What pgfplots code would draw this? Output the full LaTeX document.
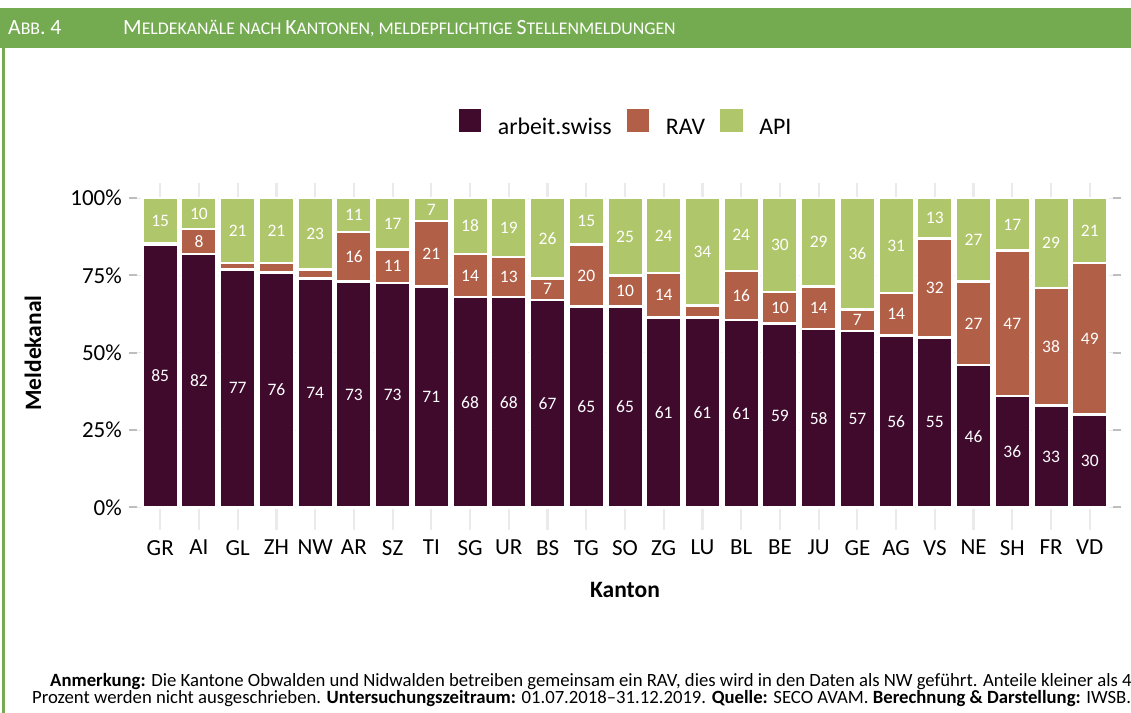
\documentclass[border=0pt]{standalone}
\usepackage{fontspec}
\setmainfont{Carlito}
\usepackage{pgfplots}
\usepackage{pgfplotstable}
\pgfplotsset{compat=1.18}
\definecolor{cA}{RGB}{64,10,45}
\definecolor{cR}{RGB}{177,95,70}
\definecolor{cP}{RGB}{176,198,106}
\definecolor{hdr}{RGB}{116,170,80}
\definecolor{gridc}{RGB}{234,234,234}
\definecolor{tickc}{RGB}{190,190,190}

\pgfplotstableread{
x k A R P la lr lp
0 GR 85.0 0.4 14.6 85 {} 15
1 AI 82.0 8.0 10.0 82 8 10
2 GL 77.0 2.0 21.0 77 {} 21
3 ZH 76.0 3.0 21.0 76 {} 21
4 NW 74.0 3.0 23.0 74 {} 23
5 AR 73.0 16.0 11.0 73 16 11
6 SZ 72.6 10.8 16.6 73 11 17
7 TI 71.4 21.2 7.4 71 21 7
8 SG 68.0 14.0 18.0 68 14 18
9 UR 68.0 13.0 19.0 68 13 19
10 BS 67.0 7.0 26.0 67 7 26
11 TG 65.0 20.0 15.0 65 20 15
12 SO 65.0 10.0 25.0 65 10 25
13 ZG 61.4 14.4 24.2 61 14 24
14 LU 61.4 3.9 34.7 61 {} 34
15 BL 60.6 15.8 23.6 61 16 24
16 BE 59.4 10.3 30.3 59 10 30
17 JU 57.7 13.8 28.5 58 14 29
18 GE 57.0 7.0 36.0 57 7 36
19 AG 55.6 13.8 30.6 56 14 31
20 VS 55.0 32.0 13.0 55 32 13
21 NE 46.0 27.0 27.0 46 27 27
22 SH 36.0 47.0 17.0 36 47 17
23 FR 33.0 38.0 29.0 33 38 29
24 VD 30.0 49.0 21.0 30 49 21
}\data

\newcommand{\fs}[1]{\fontsize{#1bp}{#1bp}\selectfont}
\newcommand{\smc}[1]{{\fs{17.8}#1}}

\pgfplotsset{
  common/.style={
    at={(137bp,183bp)}, anchor=south west,
    width=976bp, height=347bp, scale only axis,
    xmin=-0.6, xmax=24.6, ymin=-7.3, ymax=104.9,
  }
}

\begin{document}
\begin{tikzpicture}[x=1bp,y=1bp]
\useasboundingbox (0,0) rectangle (1131,713);
\fill[white] (0,0) rectangle (1131,713);
\fill[hdr] (0,665) rectangle (1131,705);
\fill[hdr] (2,0) rectangle (4.5,665);
\node[anchor=base west, text=white, inner sep=0] at (8,678) {\fs{21.7}A\smc{BB}. 4};
\node[anchor=base west, text=white, inner sep=0] at (123,678) {\fs{21.7}M\smc{ELDEKANÄLE NACH }K\smc{ANTONEN, MELDEPFLICHTIGE }S\smc{TELLENMELDUNGEN}};

\begin{axis}[
  common,
  ybar stacked, bar width=35.5bp,
  axis line style={draw=none},
  xtick={0,...,24},
  xticklabels from table={\data}{k},
  ytick={0,25,50,75,100},
  yticklabels={0\%,25\%,50\%,75\%,100\%},
  tick label style={font=\fs{23}},
  xtick style={draw=none},
  ytick style={draw=tickc, line width=2bp},
  tick align=outside, major tick length=8bp,
  xmajorgrids, ymajorgrids,
  x grid style={gridc, line width=2.2bp},
  y grid style={gridc, line width=1bp},
  yticklabel style={inner sep=0pt, xshift=-7bp},
  xticklabel style={inner sep=0pt, yshift=-2bp, anchor=north},
  xlabel={\textbf{Kanton}},
  ylabel={\textbf{Meldekanal}},
  xlabel style={at={(axis description cs:0.5,-0.173)}, anchor=center, font=\fs{23.5}},
  ylabel style={at={(axis description cs:-0.1066,0.51)}, anchor=center, font=\fs{23.5}},
  legend columns=3,
  legend style={at={(0.5,1.176)}, anchor=center, draw=none, font=\fs{23.8},
    /tikz/every even column/.append style={column sep=15bp},
    nodes={inner sep=0pt, text depth=0pt}},
  legend image code/.code={\path[#1,draw=none] (0bp,-5.5bp) rectangle (22.7bp,17.2bp); \path (22.7bp,0) -- (38bp,0);},
  /pgf/number format/assume math mode=true,
]
\addplot[fill=cA, draw=white, line width=2.5bp] table[x=x,y=A]{\data};
\addplot[fill=cR, draw=white, line width=2.5bp] table[x=x,y=R]{\data};
\addplot[fill=cP, draw=white, line width=2.5bp] table[x=x,y=P]{\data};
\legend{arbeit.swiss, RAV, API}
\end{axis}

\begin{axis}[
  common, hide axis,
  nodes near coords, point meta=explicit symbolic,
  nodes near coords style={anchor=center, text=white, font=\fs{17.5}, inner sep=0pt},
]
\addplot[draw=none, mark=none] table[x=x, y expr=\thisrow{A}/2, meta=la]{\data};
\addplot[draw=none, mark=none] table[x=x, y expr=\thisrow{A}+\thisrow{R}/2, meta=lr]{\data};
\addplot[draw=none, mark=none] table[x=x, y expr=\thisrow{A}+\thisrow{R}+\thisrow{P}/2, meta=lp]{\data};
\end{axis}

\node[anchor=base west, inner sep=0] at (50,26) {\fs{18.7}\textbf{Anmerkung:} Die Kantone Obwalden und Nidwalden betreiben gemeinsam ein RAV, dies wird in den Daten als NW geführt. Anteile kleiner als 4};
\node[anchor=base west, inner sep=0] at (32,9) {\fs{18.7}Prozent werden nicht ausgeschrieben. \textbf{Untersuchungszeitraum:} 01.07.2018–31.12.2019. \textbf{Quelle:} SECO AVAM. \textbf{Berechnung \& Darstellung:} IWSB.};
\end{tikzpicture}
\end{document}
